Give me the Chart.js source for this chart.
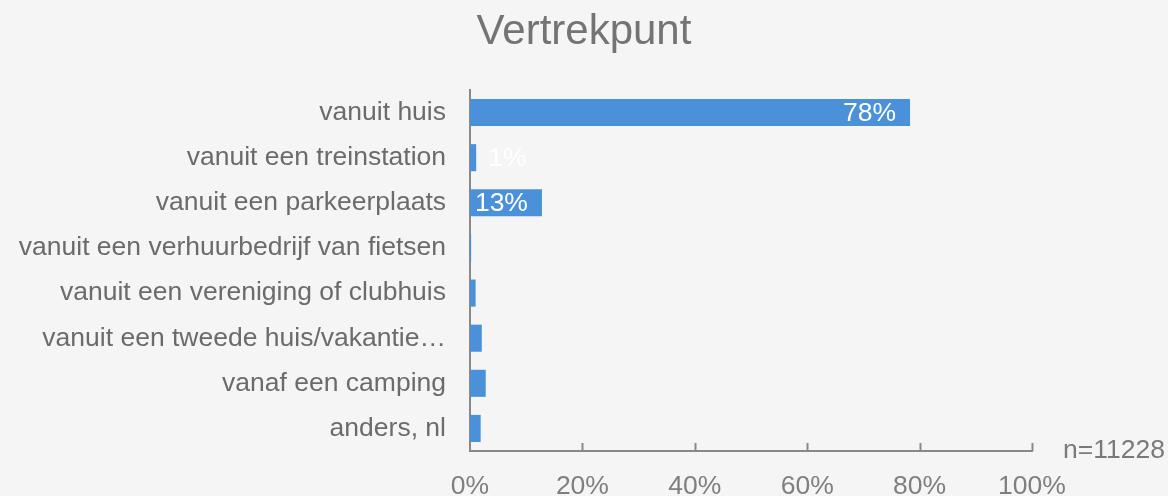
<!DOCTYPE html>
<html>
<head>
<meta charset="utf-8">
<title>Vertrekpunt</title>
<script src="https://cdn.jsdelivr.net/npm/chart.js@4/dist/chart.umd.min.js"></script>
<style>
    html, body { margin: 0; padding: 0; background: #f5f5f5; }
    #wrap { width: 1168px; height: 496px; }
</style>
</head>
<body>
<div id="wrap"><canvas id="chart" width="1168" height="496"></canvas></div>
<script>
// --- DATA ---
const categories = [
    'vanuit huis',
    'vanuit een treinstation',
    'vanuit een parkeerplaats',
    'vanuit een verhuurbedrijf van fietsen',
    'vanuit een vereniging of clubhuis',
    'vanuit een tweede huis/vakantie…',
    'vanaf een camping',
    'anders, nl'
];
const shares = [78.3, 1.1, 12.8, 0.2, 1.0, 2.1, 2.8, 1.9];
const valueLabels = ['78%', '1%', '13%', '', '', '', '', ''];
const xTicks = [0, 20, 40, 60, 80, 100];
const chartTitle = 'Vertrekpunt';
const sampleNote = 'n=11228';

const FONT = '"Liberation Sans", Arial, sans-serif';
const AXIS_GREY = '#898989';

// Title (centred on the whole canvas), inward x ticks, value labels, sample size
const extras = {
    id: 'extras',
    afterDatasetsDraw(chart) {
        const ctx = chart.ctx;
        const x = chart.scales.x;
        const area = chart.chartArea;

        ctx.save();

        // title
        ctx.font = '42px ' + FONT;
        ctx.fillStyle = '#747474';
        ctx.textAlign = 'center';
        ctx.textBaseline = 'middle';
        ctx.fillText(chartTitle, chart.width / 2, 32);

        // tick marks pointing into the plot
        ctx.strokeStyle = AXIS_GREY;
        ctx.lineWidth = 2;
        xTicks.forEach(v => {
            if (v === 0) return;
            const px = Math.round(x.getPixelForValue(v)) + 0.5;
            ctx.beginPath();
            ctx.moveTo(px, area.bottom);
            ctx.lineTo(px, area.bottom - 8);
            ctx.stroke();
        });

        // value labels
        ctx.font = '26.5px ' + FONT;
        ctx.fillStyle = '#ffffff';
        const meta = chart.getDatasetMeta(0);
        meta.data.forEach((bar, i) => {
            const txt = valueLabels[i];
            if (!txt) return;
            const w = ctx.measureText(txt).width;
            const barW = bar.x - bar.base;
            if (barW > w + 16) {
                ctx.textAlign = 'right';
                ctx.fillText(txt, bar.x - 14, bar.y + 1);
            } else {
                ctx.textAlign = 'left';
                ctx.fillText(txt, bar.x + 12, bar.y + 1);
            }
        });

        // sample size
        ctx.fillStyle = '#7a7a7a';
        ctx.textAlign = 'right';
        ctx.fillText(sampleNote, 1165, area.bottom);
        ctx.restore();
    }
};

new Chart(document.getElementById('chart'), {
    type: 'bar',
    data: {
        labels: categories,
        datasets: [{
            data: shares,
            backgroundColor: '#4b91d9',
            borderWidth: 0,
            barPercentage: 0.6,
            categoryPercentage: 1.0
        }]
    },
    options: {
        indexAxis: 'y',
        responsive: false,
        animation: false,
        layout: { padding: { left: 0, right: 136, top: 90, bottom: 0 } },
        plugins: {
            legend: { display: false },
            tooltip: { enabled: false },
            title: { display: false }
        },
        scales: {
            x: {
                min: 0,
                max: 100,
                afterBuildTicks(scale) {
                    scale.ticks = xTicks.map(v => ({ value: v }));
                },
                afterFit(scale) { scale.height = 45; },
                grid: { display: false, drawTicks: false },
                border: { display: true, color: AXIS_GREY, width: 2 },
                ticks: {
                    color: '#7f7f7f',
                    padding: 20,
                    font: { family: FONT, size: 26.5 },
                    callback: v => v + '%'
                }
            },
            y: {
                afterFit(scale) { scale.width = 470; },
                grid: { display: false, drawTicks: false },
                border: { display: true, color: AXIS_GREY, width: 2 },
                ticks: {
                    color: '#6b6b6b',
                    padding: 24,
                    autoSkip: false,
                    font: { family: FONT, size: 26.5 }
                }
            }
        }
    },
    plugins: [extras]
});
</script>
</body>
</html>
